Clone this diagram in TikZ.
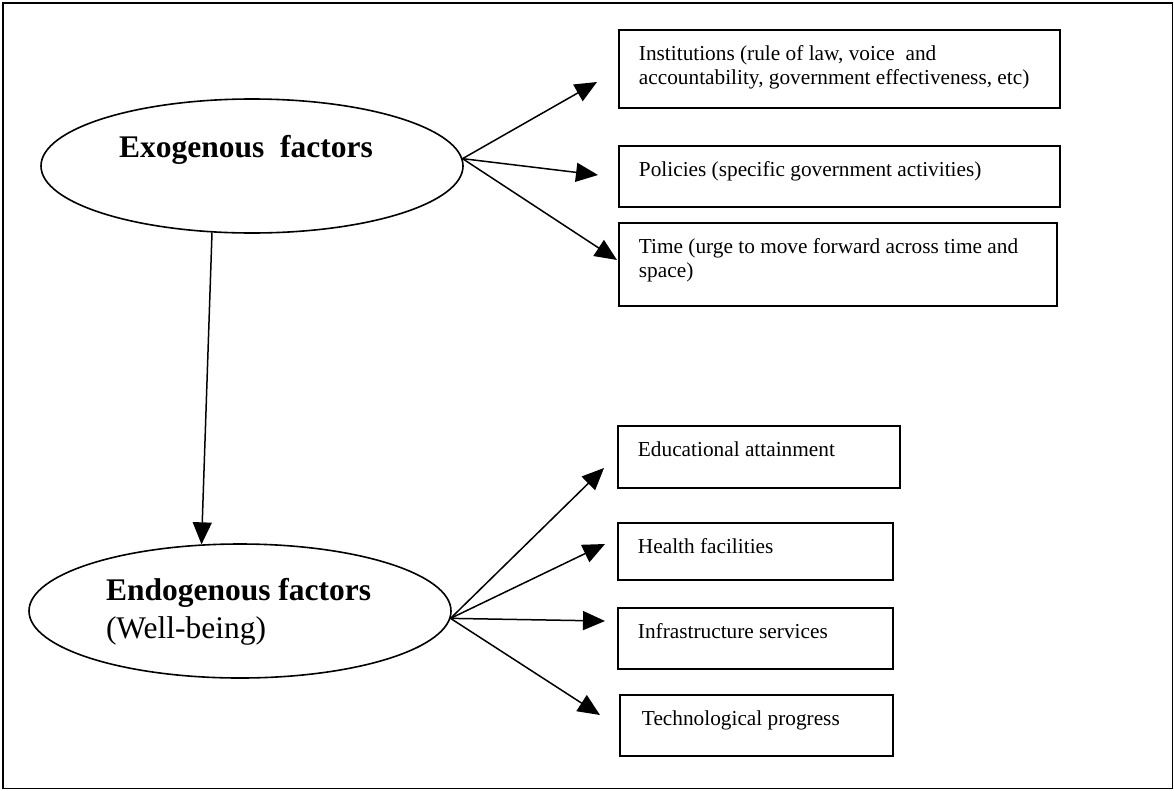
\documentclass[tikz,border=0pt]{standalone}
\usepackage{fontspec}
\setmainfont{Liberation Serif}
\usetikzlibrary{shapes.geometric,arrows.meta,calc}
\newcommand\boxtxt[3]{\parbox[c][#2][t]{#1}{\vspace*{14.2pt}\leftskip=20pt\parindent=0pt\fontsize{21.3}{24}\selectfont\strut#3}}
\begin{document}
\begin{tikzpicture}[x=1pt,y=-1pt,
  frame/.style={line width=1.8pt},
  oval/.style={draw,ellipse,line width=1.6pt,minimum width=422pt,minimum height=134pt,inner sep=0pt},
  fbox/.style={draw,rectangle,line width=1.9pt,anchor=north west,inner sep=0pt},
  arr/.style={line width=1.5pt,-{Triangle[length=22pt,width=19pt]}}]
\useasboundingbox (0,0) rectangle (1174,790);
\draw[frame] (3,3) rectangle (1172.5,788.5);
% ellipses
\node[oval] (ex) at (252,166) {\raisebox{9pt}[0pt][0pt]{\makebox[0pt][c]{\hspace*{-12pt}\fontsize{31.5}{36}\selectfont\bfseries Exogenous\ \ factors}}};
\node[oval] (en) at (240,611) {\raisebox{11pt}[0pt][0pt]{\makebox[0pt][c]{\parbox[t]{268pt}{\fontsize{31.5}{38}\selectfont\textbf{Endogenous factors}\\(Well-being)}}}};
% boxes
\node[fbox] (inst) at (618,29) {\boxtxt{441pt}{78pt}{Institutions (rule of law, voice\ \ and\\accountability, government effectiveness, etc)}};
\node[fbox] (pol) at (618,145) {\boxtxt{441pt}{61pt}{Policies (specific government activities)}};
\node[fbox] (time) at (618,222) {\boxtxt{438pt}{83pt}{Time (urge to move forward across time and\\space)}};
\node[fbox] (edu) at (617,425) {\boxtxt{282pt}{62pt}{Educational attainment}};
\node[fbox] (hea) at (617,522) {\boxtxt{275pt}{57pt}{Health facilities}};
\node[fbox] (inf) at (617,607) {\boxtxt{275pt}{61pt}{Infrastructure services}};
\node[fbox] (tech) at (619,694) {\boxtxt{273pt}{61pt}{\hspace*{2pt}Technological progress}};
% arrow tips
\coordinate (t1) at (597,82);
\coordinate (t2) at (598,175);
\coordinate (t3) at (617,260);
\coordinate (t4) at (604,468);
\coordinate (t5) at (605,544);
\coordinate (t6) at (605,621);
\coordinate (t7) at (600,715);
\draw[arr] (ex.2.5) -- (t1);
\draw[arr] (ex.2.5) -- (t2);
\draw[arr] (ex.2.5) -- (t3);
\draw[arr] (ex.239.3) -- (en.120);
\draw[arr] (en.-2.5) -- (t4);
\draw[arr] (en.-2.5) -- (t5);
\draw[arr] (en.-2.5) -- (t6);
\draw[arr] (en.-2.5) -- (t7);
\end{tikzpicture}
\end{document}
